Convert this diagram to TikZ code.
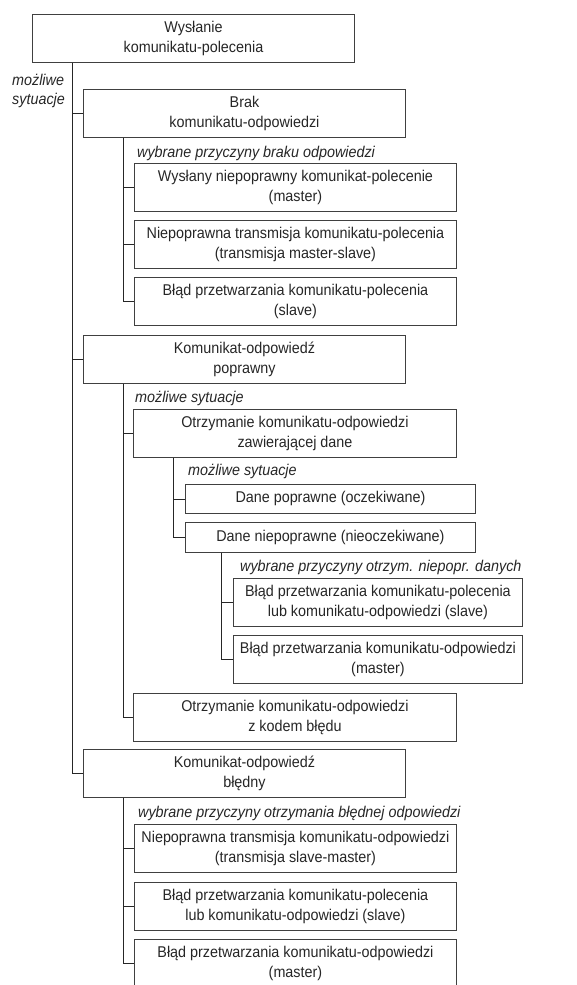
\documentclass[tikz,border=0pt]{standalone}
\usepackage{fontspec}
\setmainfont[FakeStretch=0.92]{Liberation Sans}
\tikzset{
  box/.style={draw=black!75, line width=0.9pt, anchor=north west, minimum height=48pt, inner sep=0pt, align=center, text=black!85, font=\fontsize{15.6}{20}\selectfont},
  lab/.style={anchor=west, inner sep=0pt, font=\fontsize{15.6}{19}\selectfont\itshape, text=black!85},
  link/.style={draw=black!85, line width=0.9pt}
}
\begin{document}
\begin{tikzpicture}[x=1pt,y=-1pt]
\useasboundingbox (0,0) rectangle (577,985);
\node [box, minimum width=322pt] (send) at (32,14) {Wysłanie\\komunikatu-polecenia};
\node [lab, align=left] (sendLab) at (12,91) {możliwe\\sytuacje};
\node [box, minimum width=322pt] (brak) at (83,89) {Brak\\komunikatu-odpowiedzi};
\node [lab] (brakLab) at (137,153) {wybrane przyczyny braku odpowiedzi};
\node [box, minimum width=322pt] (brakA) at (134,163) {Wysłany niepoprawny komunikat-polecenie\\(master)};
\node [box, minimum width=322pt] (brakB) at (134,220) {Niepoprawna transmisja komunikatu-polecenia\\(transmisja master-slave)};
\node [box, minimum width=322pt] (brakC) at (134,277) {Błąd przetwarzania komunikatu-polecenia\\(slave)};
\node [box, minimum width=322pt] (ok) at (83,335) {Komunikat-odpowiedź\\poprawny};
\node [lab] (okLab) at (135,398) {możliwe sytuacje};
\node [box, minimum width=323pt] (dane) at (133,409) {Otrzymanie komunikatu-odpowiedzi\\zawierającej dane};
\node [lab] (daneLab) at (188,471) {możliwe sytuacje};
\node [box, minimum width=290pt, minimum height=29pt] (daneOk) at (185,484) {Dane poprawne (oczekiwane)};
\node [box, minimum width=290pt, minimum height=30pt] (daneBad) at (185,522) {Dane niepoprawne (nieoczekiwane)};
\node [lab] (badLab) at (240,567) {wybrane przyczyny otrzym. niepopr. danych};
\node [box, minimum width=289pt] (badA) at (233,578) {Błąd przetwarzania komunikatu-polecenia\\lub komunikatu-odpowiedzi (slave)};
\node [box, minimum width=289pt] (badB) at (233,635) {Błąd przetwarzania komunikatu-odpowiedzi\\(master)};
\node [box, minimum width=323pt] (kod) at (133,693) {Otrzymanie komunikatu-odpowiedzi\\z kodem błędu};
\node [box, minimum width=322pt] (err) at (83,749) {Komunikat-odpowiedź\\błędny};
\node [lab] (errLab) at (138,813) {wybrane przyczyny otrzymania błędnej odpowiedzi};
\node [box, minimum width=322pt] (errA) at (134,824) {Niepoprawna transmisja komunikatu-odpowiedzi\\(transmisja slave-master)};
\node [box, minimum width=322pt] (errB) at (134,882) {Błąd przetwarzania komunikatu-polecenia\\lub komunikatu-odpowiedzi (slave)};
\node [box, minimum width=322pt] (errC) at (134,939) {Błąd przetwarzania komunikatu-odpowiedzi\\(master)};
\foreach \a/\b/\d in {send/brak/40, send/ok/40, send/err/40, brak/brakA/40, brak/brakB/40, brak/brakC/40, ok/dane/40, ok/kod/40, dane/daneOk/40, dane/daneBad/40, daneBad/badA/36, daneBad/badB/36, err/errA/40, err/errB/40, err/errC/40}
  \draw [link] ([xshift=\d pt]\a.south west) |- (\b.west);
\end{tikzpicture}
\end{document}
